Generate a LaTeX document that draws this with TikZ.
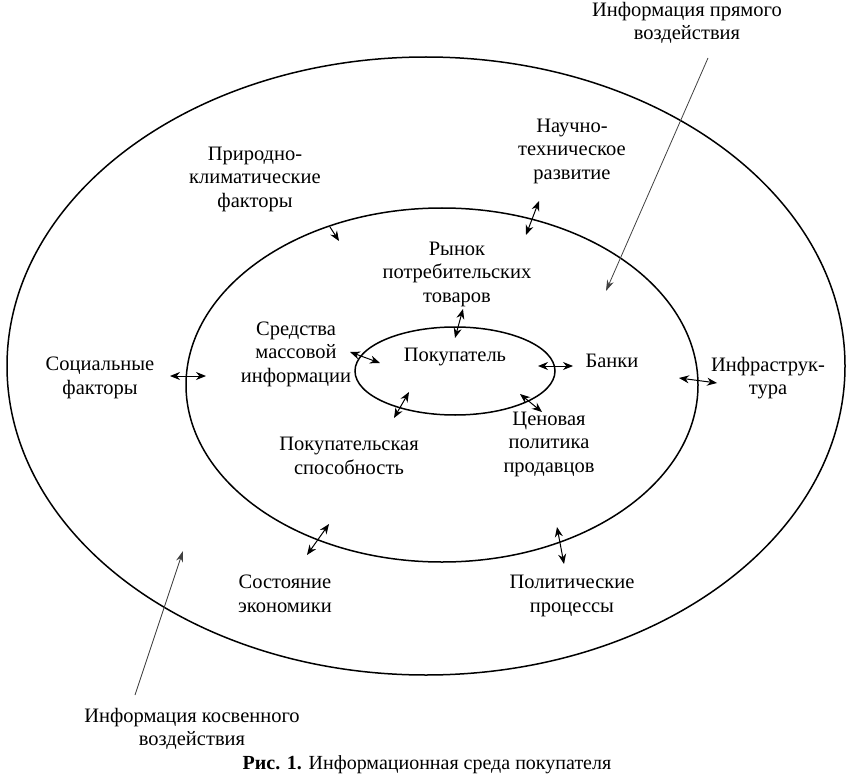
\documentclass[tikz,border=0pt]{standalone}
\usepackage{fontspec}
\setmainfont{Liberation Serif}
\usetikzlibrary{arrows.meta}

\tikzset{
  txt/.style={align=center, font=\fontsize{20.5}{23.5}\selectfont, inner sep=0pt},
  link/.style={<->, >={Stealth[length=10pt,width=8pt]}, line width=1pt},
  pointer/.style={->, >={Stealth[length=11pt,width=7pt]}, line width=0.8pt, black!75},
  ring/.style={line width=1.5pt},
}

\begin{document}
\begin{tikzpicture}[x=1pt,y=-1pt]
  \useasboundingbox (0,0) rectangle (851,778);
%  three rings
  \draw[ring] (426,366) ellipse [x radius=419, y radius=309];
  \draw[ring] (442,385) ellipse [x radius=256, y radius=177];
  \draw[ring] (455,371) ellipse [x radius=100, y radius=44];

  \node[txt] (direct)  at (687,23)  {Информация прямого\\воздействия};
  \node[txt] (science) at (572,151) {Научно-\\техническое\\развитие};
  \node[txt] (nature)  at (255,179) {Природно-\\климатические\\факторы};
  \node[txt] (market)  at (457,274) {Рынок\\потребительских\\товаров};
  \node[txt] (media)   at (296,354) {Средства\\массовой\\информации};
  \node[txt] (buyer)   at (455,357) {Покупатель};
  \node[txt] (banks)   at (612,361) {Банки};
  \node[txt] (social)  at (100,378) {Социальные\\факторы};
  \node[txt] (infra)   at (768,378) {Инфраструк-\\тура};
  \node[txt] (price)   at (549,444) {Ценовая\\политика\\продавцов};
  \node[txt] (power)   at (349,456) {Покупательская\\способность};
  \node[txt] (economy) at (285,594) {Состояние\\экономики};
  \node[txt] (politic) at (572,596) {Политические\\процессы};
  \node[txt] (indirect) at (192,729) {Информация косвенного\\воздействия};
  \node[font=\fontsize{20}{23}\selectfont, inner sep=0pt] (caption) at (427,765)
    {\textbf{Рис. 1.} Информационная среда покупателя};

  % arrow ends
  \coordinate (n1) at (330,227); \coordinate (n2) at (339,241);
  \coordinate (s1) at (539,201); \coordinate (s2) at (526,235);
  \coordinate (m1) at (463,309); \coordinate (m2) at (455,338);
  \coordinate (v1) at (350,352); \coordinate (v2) at (380,363);
  \coordinate (b1) at (538,366); \coordinate (b2) at (573,366);
  \coordinate (p1) at (409,392); \coordinate (p2) at (394,418);
  \coordinate (c1) at (520,394); \coordinate (c2) at (542,412);
  \coordinate (o1) at (170,376); \coordinate (o2) at (206,376);
  \coordinate (i1) at (679,378); \coordinate (i2) at (717,383);
  \coordinate (e1) at (329,524); \coordinate (e2) at (307,555);
  \coordinate (l1) at (557,527); \coordinate (l2) at (564,564);
  \coordinate (d1) at (708,58);  \coordinate (d2) at (606,291);
  \coordinate (k1) at (135,695); \coordinate (k2) at (183,551);

  \path[link]
    (s1) edge (s2)
    (m1) edge (m2)
    (v1) edge (v2)
    (b1) edge (b2)
    (p1) edge (p2)
    (c1) edge (c2)
    (o1) edge (o2)
    (i1) edge (i2)
    (e1) edge (e2)
    (l1) edge (l2)
  ;
  \draw[link,<-] (n2) -- (n1);
  \path[pointer]
    (d1) edge (d2)
    (k1) edge (k2)
  ;
\end{tikzpicture}
\end{document}
